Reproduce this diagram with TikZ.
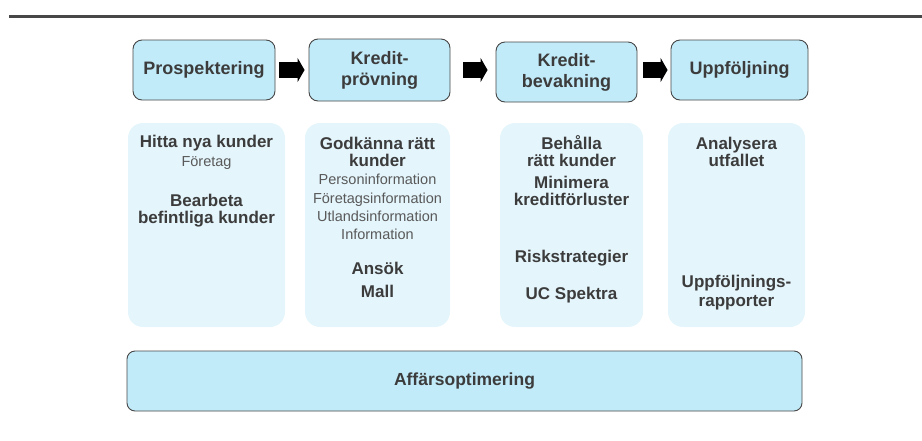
\documentclass[tikz,border=0pt]{standalone}
\usepackage{fontspec}
\setmainfont{Liberation Sans}
\usetikzlibrary{arrows.meta}
\definecolor{boxblue}{HTML}{C2EBF9}
\definecolor{paleblue}{HTML}{E4F5FC}
\definecolor{txtgray}{HTML}{3C3C3C}
\definecolor{rulegray}{HTML}{474747}

\begin{document}
\begin{tikzpicture}[x=1pt,y=-1pt,
  stage/.style={draw=rulegray, line width=0.9pt, fill=boxblue, rounded corners=9pt,
    align=center, text=txtgray, inner sep=0pt, font=\fontsize{18}{21}\selectfont\bfseries},
  goal/.style={fill=paleblue, rounded corners=15pt, inner sep=0pt,
    minimum height=204pt},
  big/.style={align=center, text=txtgray, inner sep=0pt, font=\fontsize{17}{17}\selectfont\bfseries},
  small/.style={align=center, text=txtgray!85, inner sep=0pt, font=\fontsize{14.5}{18.3}\selectfont},
  flow/.style={line width=16pt, -{Triangle[length=7pt,width=24pt]}}]
\useasboundingbox (0,0) rectangle (922,440);
\draw[line width=3pt, rulegray] (9,16) -- (922,16);

% process steps
\node[stage, minimum width=142pt, minimum height=60pt] (p1) at (204,70) {Prospektering};
\node[stage, minimum width=141pt, minimum height=62pt] (p2) at (379.5,70) {Kredit-\\prövning};
\node[stage, minimum width=141pt, minimum height=60pt] (p3) at (566.5,72) {Kredit-\\bevakning};
\node[stage, minimum width=137pt, minimum height=60pt] (p4) at (739.5,70) {Uppföljning};

\draw[flow, shorten <=4pt, shorten >=4pt] (p1.east) -- (p2.west);
\draw[flow, shorten <=13pt, shorten >=8pt] (p2.east) -- (p2.east -| p3.west);
\draw[flow, shorten <=6pt, shorten >=3pt] (p4.west -| p3.east) -- (p4.west);

% goals under each step
\node[goal, minimum width=157pt] (g1) at (206.5,225) {};
\node[goal, minimum width=145pt] (g2) at (377.5,225) {};
\node[goal, minimum width=143pt] (g3) at (571.5,225) {};
\node[goal, minimum width=137pt] (g4) at (736.5,225) {};

\node[big] (g1a) at (206.5,143) {Hitta nya kunder};
\node[small] (g1b) at (206.5,163) {Företag};
\node[big] (g1c) at (206.5,210.5) {Bearbeta\\befintliga kunder};

\node[big] (g2a) at (377.5,151.5) {Godkänna rätt\\kunder};
\node[small] (g2b) at (377.5,207) {Personinformation\\Företagsinformation\\Utlandsinformation\\Information};
\node[big] (g2c) at (377.5,279.5) {Ansök\\[6pt]Mall};

\node[big] (g3a) at (571.5,151.5) {Behålla\\rätt kunder};
\node[big] (g3b) at (571.5,190.5) {Minimera\\kreditförluster};
\node[big] (g3c) at (571.5,258) {Riskstrategier};
\node[big] (g3d) at (571.5,295) {UC Spektra};

\node[big] (g4a) at (736.5,151.5) {Analysera\\utfallet};
\node[big] (g4b) at (736.5,292.5) {Uppföljnings-\\[2pt]rapporter};

\node[stage, minimum width=675pt, minimum height=60pt, rounded corners=8pt,
  font=\fontsize{17.5}{17.5}\selectfont\bfseries] (opt) at (464.5,381) {Affärsoptimering};
\end{tikzpicture}
\end{document}
